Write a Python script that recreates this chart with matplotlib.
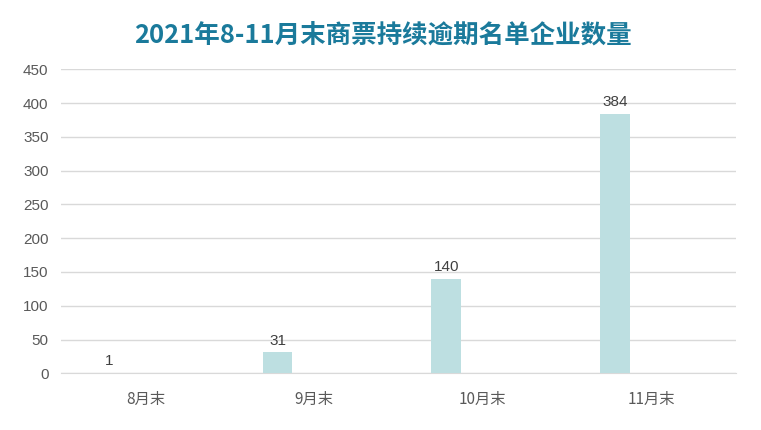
import numpy as np
import matplotlib
matplotlib.use('Agg')
from matplotlib import pyplot as plt

plt.rcParams['font.family'] = ['Noto Sans CJK SC', 'DejaVu Sans']

months = ['8月末', '9月末', '10月末', '11月末']
counts = [1, 31, 140, 384]
title = '2021年8-11月末商票持续逾期名单企业数量'

fig = plt.figure(figsize=(7.61, 4.30), dpi=100)
ax = fig.add_axes([61 / 761, 1 - 373.3 / 430, 675 / 761, 304 / 430])

x = np.arange(len(months))
bar_w = 0.175
offset = -0.217
bars = ax.bar(x + offset, counts, width=bar_w, color='#BDDFE1', zorder=3)
for b, v in zip(bars, counts):
    ax.text(b.get_x() + b.get_width() / 2, v + 7, str(v), ha='center', va='bottom',
            fontsize=11, color='#404040', family=['Liberation Sans', 'DejaVu Sans'])

ax.set_xlim(-0.5, len(months) - 0.5)
ax.set_ylim(0, 450)
ax.set_yticks(range(0, 451, 50))
ax.set_xticks(x)
ax.set_xticklabels(months, fontsize=11, color='#595959')
ax.tick_params(axis='y', labelsize=11, colors='#595959', length=0, pad=9)
ax.tick_params(axis='x', length=0, pad=13)
for lab in ax.get_yticklabels():
    lab.set_family(['Liberation Sans', 'DejaVu Sans'])
ax.grid(axis='y', color='#D9D9D9', linewidth=1, zorder=0)
for s in ['top', 'right', 'left']:
    ax.spines[s].set_visible(False)
ax.spines['bottom'].set_color('#D9D9D9')

fig.text(383 / 761, 1 - 35 / 430, title, ha='center', va='center',
         fontsize=18.4, fontweight='bold', color='#1A7A9B')

fig.savefig('out.png', dpi=100)
